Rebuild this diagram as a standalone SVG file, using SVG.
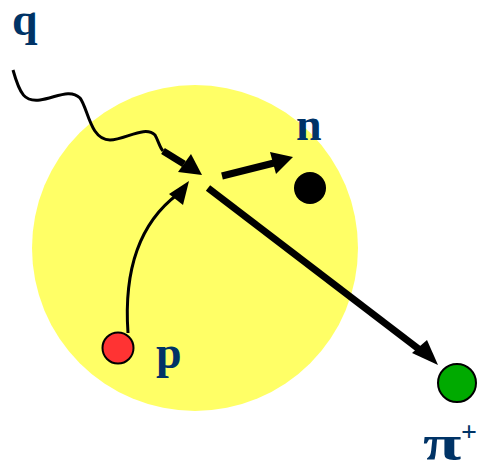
<svg xmlns="http://www.w3.org/2000/svg" width="479" height="463" viewBox="0 0 479 463">
<style>
.lbl{font-family:"Liberation Serif","Times New Roman",serif;font-weight:bold;fill:#003366;}
.thin{fill:none;stroke:#000;stroke-width:3;}
.thick{fill:none;stroke:#000;stroke-width:7;}
.head{fill:#000;}
</style>
<rect width="479" height="463" fill="#fff"/>
<g id="nucleus"><circle cx="195" cy="248" r="163" fill="#FFFF66"/></g>
<g id="connectors">
<path class="thin" d="M13,70 C20,95 25,102 40,100 C55,98 70,88 80,98 C88,108 90,140 110,140 C125,140 145,125 155,135 C158,140 160,148 163,151"/>
<path class="thick" d="M163,151 L184,164"/>
<polygon class="head" points="202,175 178,172 191,154"/>
<path class="thin" d="M128,333 C125,290 130,230 178,194"/>
<polygon class="head" points="189,181 169,194 183,205"/>
<path class="thick" d="M222,176 L274,163"/>
<polygon class="head" points="293,157 270,152 276,174"/>
<path class="thick" d="M208,188 L420,350"/>
<polygon class="head" points="438,365 412,353 427,340"/>
</g>
<g id="q"><text class="lbl" x="12" y="35" font-size="46">q</text></g>
<g id="n"><circle cx="310" cy="188" r="16" fill="#000"/><text class="lbl" x="296" y="140" font-size="46">n</text></g>
<g id="p"><circle cx="118" cy="348" r="15.5" fill="#FF3333" stroke="#000" stroke-width="2"/><text class="lbl" x="156" y="368" font-size="46">p</text></g>
<g id="pi"><circle cx="457" cy="383" r="19" fill="#00AA00" stroke="#000" stroke-width="2"/><text class="lbl" transform="translate(423,460) scale(1.4,1)" font-size="50">π</text><text class="lbl" x="461" y="441" font-size="28" font-weight="normal">+</text></g>
</svg>
